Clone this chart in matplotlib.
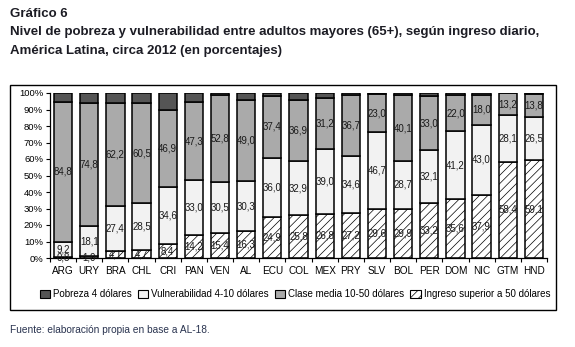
import numpy as np
import matplotlib.pyplot as plt
from matplotlib.patches import Rectangle, Patch

paises = ['ARG', 'URY', 'BRA', 'CHL', 'CRI', 'PAN', 'VEN', 'AL', 'ECU', 'COL',
          'MEX', 'PRY', 'SLV', 'BOL', 'PER', 'DOM', 'NIC', 'GTM', 'HND']
ingreso_sup = [0.8, 1.0, 4.1, 4.7, 8.4, 14.2, 15.4, 16.3, 24.9, 25.8,
               26.8, 27.2, 29.6, 29.9, 33.2, 35.6, 37.9, 58.4, 59.1]
vulnerab = [9.2, 18.1, 27.4, 28.5, 34.6, 33.0, 30.5, 30.3, 36.0, 32.9,
            39.0, 34.6, 46.7, 28.7, 32.1, 41.2, 43.0, 28.1, 26.5]
clase_media = [84.8, 74.8, 62.2, 60.5, 46.9, 47.3, 52.8, 49.0, 37.4, 36.9,
               31.2, 36.7, 23.0, 40.1, 33.0, 22.0, 18.0, 13.2, 13.8]
pobreza = [5.2, 6.1, 6.3, 6.3, 10.1, 5.5, 1.3, 4.4, 1.7, 4.4,
           3.0, 1.5, 0.7, 1.3, 1.7, 1.2, 1.1, 0.3, 0.6]

W, H = 575, 347
plt.rcParams['font.family'] = ['Liberation Sans', 'DejaVu Sans']
plt.rcParams['hatch.color'] = '#b0b0b0'
plt.rcParams['hatch.linewidth'] = 0.5
fig = plt.figure(figsize=(W / 100, H / 100), dpi=100)

# titles
tit = dict(fontsize=9.5, fontweight='bold', color='#1c1c24', va='center')
fig.text(10 / W, 1 - 14 / H, 'Gráfico 6', **tit)
fig.text(10 / W, 1 - 32 / H,
         'Nivel de pobreza y vulnerabilidad entre adultos mayores (65+), según ingreso diario,',
         **tit)
fig.text(10 / W, 1 - 51 / H, 'América Latina, circa 2012 (en porcentajes)', **tit)
fig.text(10 / W, 1 - 330 / H, 'Fuente: elaboración propia en base a AL-18.',
         fontsize=7.3, color='#2a3450', va='center')

# frame around the chart
fig.patches.append(Rectangle((10 / W, 1 - 310 / H), 546 / W, 225 / H,
                             transform=fig.transFigure, fill=False,
                             edgecolor='black', linewidth=1.0))

ax = fig.add_axes([50 / W, 1 - 258 / H, 497 / W, 165 / H])
x = np.arange(len(paises))
bw = 0.7
ek = dict(edgecolor='black', linewidth=1.1, width=bw)

ax.bar(x, ingreso_sup, color='white', hatch='////', **ek)
ax.bar(x, vulnerab, bottom=ingreso_sup, color='#f2f2f2', **ek)
base3 = np.array(ingreso_sup) + np.array(vulnerab)
ax.bar(x, clase_media, bottom=base3, color='#aaaaaa', **ek)
base4 = base3 + np.array(clase_media)
ax.bar(x, pobreza, bottom=base4, color='#555555', **ek)

def fmt(v):
    return ('%.1f' % v).replace('.', ',')

for serie, base in [(ingreso_sup, np.zeros(len(x))),
                    (vulnerab, np.array(ingreso_sup)),
                    (clase_media, base3)]:
    for i, v in enumerate(serie):
        ax.text(x[i], base[i] + v / 2, fmt(v), ha='center', va='center',
                fontsize=7, color='#1a1a1a', zorder=5)

ax.set_xlim(-0.5, len(paises) - 0.5)
ax.set_ylim(0, 100)
ax.set_yticks(np.arange(0, 101, 10))
ax.set_yticklabels(['%d%%' % t for t in range(0, 101, 10)], fontsize=6.8)
ax.set_xticks(x)
ax.set_xticklabels(paises, fontsize=7.2)
ax.tick_params(axis='x', length=0, pad=6)
ax.set_xticks(np.arange(-0.5, len(paises), 1), minor=True)
ax.tick_params(axis='x', which='minor', length=3, width=0.8)
ax.tick_params(axis='y', length=3, width=0.8, pad=2)
for s in ['top', 'right']:
    ax.spines[s].set_visible(False)
ax.spines['left'].set_linewidth(0.9)
ax.spines['bottom'].set_linewidth(0.9)

handles = [Patch(facecolor='#555555', edgecolor='black', linewidth=0.8),
           Patch(facecolor='#f2f2f2', edgecolor='black', linewidth=0.8),
           Patch(facecolor='#aaaaaa', edgecolor='black', linewidth=0.8),
           Patch(facecolor='white', edgecolor='black', linewidth=0.8, hatch='////')]
labels = ['Pobreza 4 dólares', 'Vulnerabilidad 4-10 dólares',
          'Clase media 10-50 dólares', 'Ingreso superior a 50 dólares']
fig.legend(handles, labels, loc='center', bbox_to_anchor=(295 / W, 1 - 294 / H),
           ncol=4, frameon=False, fontsize=7, handlelength=1.1,
           handleheight=0.9, handletextpad=0.3, columnspacing=0.6)

fig.savefig('out.png', dpi=100)
